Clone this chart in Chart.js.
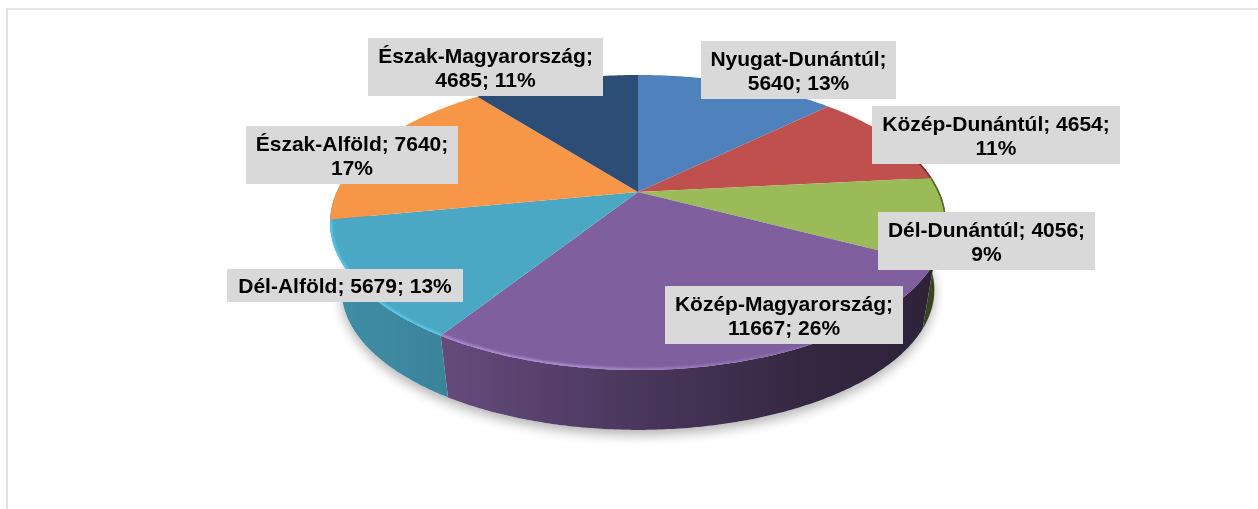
<!DOCTYPE html>
<html>
<head>
<meta charset="utf-8">
<script src="https://cdn.jsdelivr.net/npm/chart.js@4"></script>
<style>
  html, body { margin: 0; padding: 0; background: #fff; overflow: hidden; }
  #frame { position: absolute; left: 6px; top: 8px; width: 1260px; height: 510px; border-top: 2px solid #e4e4e4; border-left: 2px solid #e4e4e4; }
  #myChart { position: absolute; left: 0; top: 0; }
</style>
</head>
<body>
<div id="frame"></div>
<canvas id="myChart" width="1258" height="509"></canvas>
<script>
// data
const categories = ["Nyugat-Dunántúl", "Közép-Dunántúl", "Dél-Dunántúl", "Közép-Magyarország", "Dél-Alföld", "Észak-Alföld", "Észak-Magyarország"];
const values = [5640, 4654, 4056, 11667, 5679, 7640, 4685];
const percents = [13, 11, 9, 26, 13, 17, 11];

// styles
const faceColors = ["#4f81bd", "#c0504d", "#9bbb59", "#7f5f9e", "#4aa8c4", "#f79646", "#2c4d75"];
const rimColors = [null, null, null, "#ac8cd4", "#5cc8ea", null, null];
const edgeColors = [null, "#7a3230", "#55662c", null, null, null, null];
const wallShade = [[0, 0.85], [0.2, 0.78], [0.5, 0.58], [0.8, 0.4], [1, 0.36]];

// label boxes: x, y, w, h, how many parts stay on the first line
const labelBoxes = [
  [701, 41, 195, 58, 1],
  [872, 106, 248, 58, 2],
  [878, 212, 217, 58, 2],
  [665, 286, 238, 58, 1],
  [227, 269, 236, 33, 3],
  [246, 126, 212, 58, 2],
  [368, 38, 235, 58, 1],
];

// pie tilt, top face and the smaller bottom face
const top3d = { cx: 638, cy: 192, rx: 301.3, ry: 141.2, k: 0.2067 };
const bottom3d = { cx: 638, cy: 261, rx: 290, ry: 134, k: 0.2067 };
const wallFrom = -0.25;
const wallTo = Math.PI + 0.25;

const project = (p, a) => {
  const w = 1 - p.k * Math.sin(a);
  return [p.cx + (p.rx * Math.cos(a)) / w, p.cy + (p.ry * Math.sin(a)) / w];
};

const shade = (hex, f) => {
  const n = parseInt(hex.slice(1), 16);
  const r = Math.round(((n >> 16) & 255) * f);
  const g = Math.round(((n >> 8) & 255) * f);
  const b = Math.round((n & 255) * f);
  return `rgb(${r},${g},${b})`;
};

const rimPath = (ctx, p, start, end, first) => {
  const steps = Math.max(2, Math.ceil(Math.abs(end - start) / 0.01));
  for (let i = 0; i <= steps; i++) {
    const pt = project(p, start + ((end - start) * i) / steps);
    if (i === 0 && first) ctx.moveTo(pt[0], pt[1]);
    else ctx.lineTo(pt[0], pt[1]);
  }
};

// slices keep the angles the library worked out, only the drawing is tilted
Chart.ArcElement.prototype.draw = function (ctx) {
  const color = this.options.backgroundColor;
  const index = faceColors.indexOf(color);
  ctx.save();
  ctx.beginPath();
  ctx.moveTo(top3d.cx, top3d.cy);
  rimPath(ctx, top3d, this.startAngle, this.endAngle, false);
  ctx.closePath();
  ctx.fillStyle = color;
  ctx.fill();
  ctx.clip();

  if (rimColors[index]) {
    const grad = ctx.createLinearGradient(330, 0, 860, 0);
    grad.addColorStop(0, rimColors[index]);
    grad.addColorStop(0.5, rimColors[index]);
    grad.addColorStop(1, "rgba(160,130,200,0)");
    ctx.beginPath();
    rimPath(ctx, top3d, this.startAngle, this.endAngle, true);
    ctx.strokeStyle = grad;
    ctx.lineWidth = 4;
    ctx.filter = "blur(1px)";
    ctx.stroke();
  }
  if (edgeColors[index]) {
    ctx.beginPath();
    rimPath(ctx, top3d, Math.max(this.startAngle, -0.3), this.endAngle, true);
    ctx.strokeStyle = edgeColors[index];
    ctx.lineWidth = 3;
    ctx.stroke();
  }
  ctx.restore();
};

const pieBody = {
  id: "pieBody",
  beforeDatasetsDraw(chart) {
    const ctx = chart.ctx;
    const arcs = chart.getDatasetMeta(0).data;

    // soft shadow under the pie
    ctx.save();
    ctx.beginPath();
    rimPath(ctx, bottom3d, 0, Math.PI * 2, true);
    ctx.closePath();
    ctx.shadowColor = "rgba(0,0,0,0.3)";
    ctx.shadowBlur = 12;
    ctx.shadowOffsetY = 5;
    ctx.fillStyle = "#fff";
    ctx.fill();
    ctx.restore();

    // side wall, the slice reaching the left edge carries it round the corner
    arcs.forEach((arc, i) => {
      if (arc.startAngle >= Math.PI - 0.3 && arc.startAngle <= wallTo) return;
      const start = Math.max(arc.startAngle, wallFrom);
      const end = arc.endAngle >= Math.PI - 0.3 ? wallTo : arc.endAngle;
      if (end <= start) return;
      const grad = ctx.createLinearGradient(330, 0, 945, 0);
      wallShade.forEach((s) => grad.addColorStop(s[0], shade(faceColors[i], s[1])));
      ctx.beginPath();
      rimPath(ctx, top3d, start, end, true);
      rimPath(ctx, bottom3d, end, start, false);
      ctx.closePath();
      ctx.fillStyle = grad;
      ctx.fill();
    });
  },
  afterDatasetsDraw(chart) {
    const ctx = chart.ctx;
    ctx.save();
    ctx.font = "bold 21px 'Liberation Sans'";
    ctx.textAlign = "center";
    ctx.textBaseline = "middle";
    labelBoxes.forEach((box, i) => {
      const parts = [categories[i] + ";", values[i] + ";", percents[i] + "%"];
      const lines = [parts.slice(0, box[4]).join(" ")];
      if (box[4] < 3) lines.push(parts.slice(box[4]).join(" "));
      ctx.fillStyle = "#d9d9d9";
      ctx.fillRect(box[0], box[1], box[2], box[3]);
      ctx.fillStyle = "#000";
      const midX = box[0] + box[2] / 2;
      const midY = box[1] + box[3] / 2 + 2;
      lines.forEach((line, n) => {
        ctx.fillText(line, midX, midY + (n - (lines.length - 1) / 2) * 24);
      });
    });
    ctx.restore();
  },
};

new Chart(document.getElementById("myChart"), {
  type: "pie",
  data: {
    labels: categories,
    datasets: [
      {
        data: values,
        backgroundColor: faceColors,
        borderWidth: 0,
      },
    ],
  },
  options: {
    responsive: false,
    animation: false,
    plugins: {
      legend: {
        display: false,
      },
      tooltip: {
        enabled: false,
      },
    },
  },
  plugins: [pieBody],
});
</script>
</body>
</html>
